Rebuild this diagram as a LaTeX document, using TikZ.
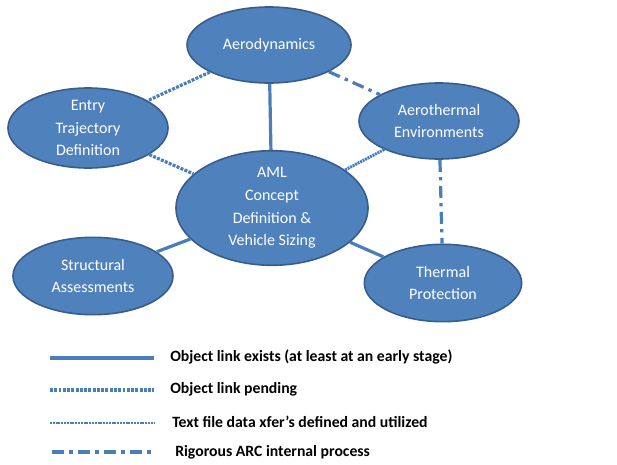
\documentclass[tikz,border=0pt]{standalone}
\usepackage{fontspec}
\setmainfont{Carlito}
\usepackage{tikz}
\usetikzlibrary{shapes.geometric}
\definecolor{nodeblue}{RGB}{79,129,189}
\definecolor{edgeblue}{RGB}{56,93,138}
\definecolor{lineblue}{RGB}{74,126,187}

\begin{document}
\begin{tikzpicture}[x=0.75pt, y=-0.75pt,
  topic/.style={ellipse, draw=edgeblue, line width=1.2pt, fill=nodeblue, text=white,
    inner sep=0pt, align=center, font=\fontsize{12}{17}\selectfont},
  linkexists/.style={lineblue, line width=2.4pt},
  linkpending/.style={lineblue, line width=2.4pt, dash pattern=on 2.2pt off 1pt},
  linkxfer/.style={lineblue, line width=2.2pt, dash pattern=on 1.5pt off 0.6pt},
  arcproc/.style={lineblue, line width=2.4pt, dash pattern=on 9pt off 4pt on 2.5pt off 4pt},
  legtext/.style={anchor=west, inner sep=0pt, font=\bfseries\fontsize{11.8}{13}\selectfont}]
  \useasboundingbox (0,0) rectangle (617,464);

  % topics
  \node[topic, minimum width=123pt, minimum height=57pt] (aero) at (269,45) {Aerodynamics};
  \node[topic, minimum width=120pt, minimum height=60pt] (entry) at (88,128) {Entry\\Trajectory\\Definition};
  \node[topic, minimum width=120pt, minimum height=57pt] (therm) at (439,121) {Aerothermal\\Environments};
  \node[topic, minimum width=144pt, minimum height=82pt] (aml) at (272,208) {AML\\Concept\\Definition \&\\Vehicle Sizing};
  \node[topic, minimum width=120pt, minimum height=58pt] (struct) at (93,276) {Structural\\Assessments};
  \node[topic, minimum width=118pt, minimum height=58pt] (tps) at (443,283) {Thermal\\Protection};

  % links
  \draw[linkpending] (aero) -- (entry);
  \draw[linkexists] (aero) -- (aml);
  \draw[arcproc] (aero) -- (therm);
  \draw[linkpending] (entry) -- (aml);
  \draw[linkxfer] (therm) -- (aml);
  \draw[arcproc] (therm) -- (tps);
  \draw[linkexists] (aml) -- (struct);
  \draw[linkexists] (aml) -- (tps);

  % legend
  \coordinate (la1) at (50,358); \coordinate (lb1) at (154,358);
  \coordinate (la2) at (50,390); \coordinate (lb2) at (154,390);
  \coordinate (la3) at (50,423); \coordinate (lb3) at (154,423);
  \coordinate (la4) at (52,452); \coordinate (lb4) at (154,452);
  \draw[linkexists] (la1) -- (lb1);
  \draw[linkpending] (la2) -- (lb2);
  \draw[linkxfer] (la3) -- (lb3);
  \draw[arcproc] (la4) -- (lb4);
  \node[legtext] (leg1) at (170,357) {Object link exists (at least at an early stage)};
  \node[legtext] (leg2) at (170,389) {Object link pending};
  \node[legtext] (leg3) at (172,422) {Text file data xfer's defined and utilized};
  \node[legtext] (leg4) at (175,452) {Rigorous ARC internal process};
\end{tikzpicture}
\end{document}
